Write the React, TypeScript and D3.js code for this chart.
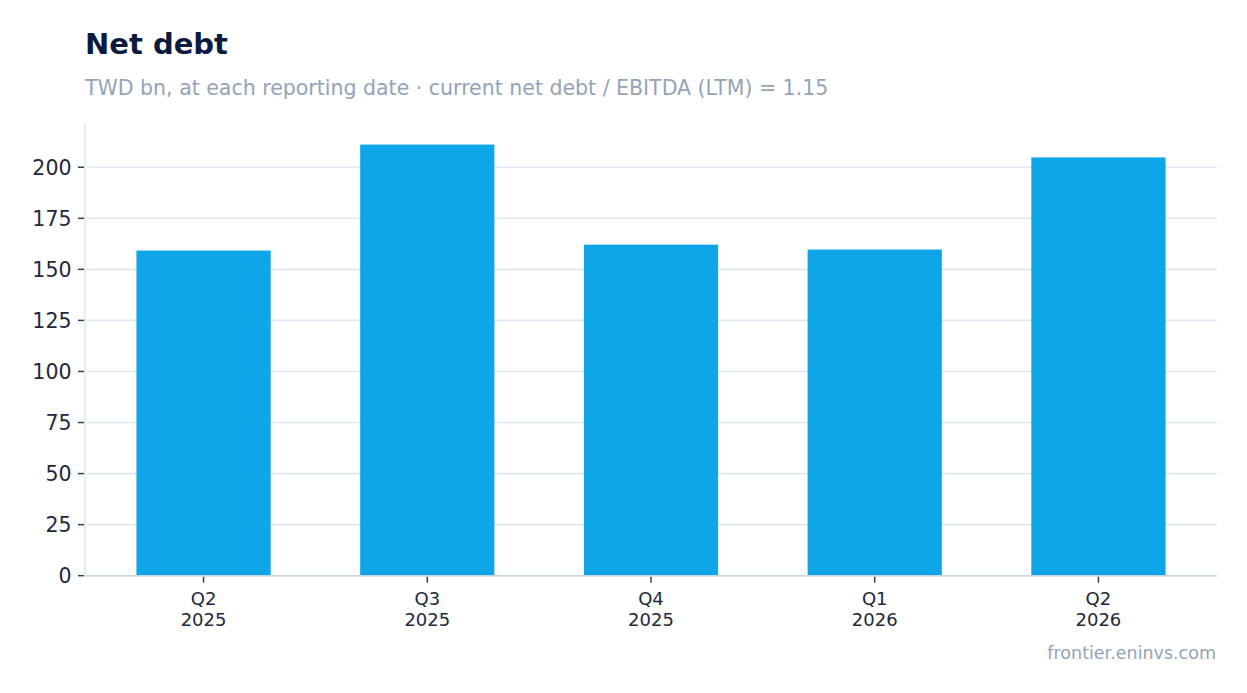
import React from "react";
import * as d3 from "d3";

const quarters = ["Q2", "Q3", "Q4", "Q1", "Q2"];
const years = ["2025", "2025", "2025", "2026", "2026"];
const netDebt = [159.2, 211.1, 162.1, 159.7, 204.8];
const yTicks = [0, 25, 50, 75, 100, 125, 150, 175, 200];

const W = 1247;
const H = 693;
const M = { left: 85, right: 1217, top: 123, bottom: 575.7 };

export default function App() {
  const keys = quarters.map((q, i) => `${q} ${years[i]}`);
  const x = d3
    .scaleBand<string>()
    .domain(keys)
    .range([M.left, M.right])
    .paddingInner(0.4)
    .paddingOuter(0.23);
  const maxV = d3.max(netDebt) as number;
  const y = d3.scaleLinear().domain([0, maxV * 1.05]).range([M.bottom, M.top]);
  const font = "'DejaVu Sans', sans-serif";

  return (
    <svg
      width={W}
      height={H}
      style={{ position: "absolute", left: 0, top: 0, display: "block", background: "#fff" }}
      fontFamily={font}
    >
      <text x={85} y={53.5} fontSize={29} fontWeight="bold" fill="#0b1b40">
        Net debt
      </text>
      <text x={85} y={94.5} fontSize={20.5} fill="#94a3b8">
        TWD bn, at each reporting date · current net debt / EBITDA (LTM) = 1.15
      </text>

      {/* gridlines */}
      {yTicks.map((t) => (
        <line
          key={"g" + t}
          x1={M.left}
          x2={M.right}
          y1={y(t)}
          y2={y(t)}
          stroke="#e2e8f0"
          strokeWidth={1.6}
        />
      ))}

      {/* left axis line */}
      <line x1={M.left} x2={M.left} y1={M.top} y2={M.bottom} stroke="#e2e8f0" strokeWidth={1.6} />

      {/* bars */}
      {netDebt.map((v, i) => (
        <rect
          key={"b" + i}
          x={x(keys[i])}
          y={y(v)}
          width={x.bandwidth()}
          height={y(0) - y(v)}
          fill="#0ea5e9"
        />
      ))}

      {/* bottom axis line */}
      <line x1={M.left} x2={M.right} y1={M.bottom} y2={M.bottom} stroke="#cbd5e1" strokeWidth={1.6} />

      {/* y ticks */}
      {yTicks.map((t) => (
        <g key={"yt" + t}>
          <line x1={78} x2={84} y1={y(t)} y2={y(t)} stroke="#334155" strokeWidth={1.5} />
          <text
            x={71.5}
            y={y(t)}
            dy="0.36em"
            textAnchor="end"
            fontSize={20.5}
            fill="#1e293b"
          >
            {t}
          </text>
        </g>
      ))}

      {/* x ticks */}
      {keys.map((k, i) => {
        const cx = (x(k) as number) + x.bandwidth() / 2;
        return (
          <g key={"xt" + i}>
            <line x1={cx} x2={cx} y1={M.bottom + 1} y2={M.bottom + 7} stroke="#334155" strokeWidth={1.5} />
            <text x={cx} y={604.5} textAnchor="middle" fontSize={18} fill="#1e293b">
              {quarters[i]}
            </text>
            <text x={cx} y={625.5} textAnchor="middle" fontSize={18} fill="#1e293b">
              {years[i]}
            </text>
          </g>
        );
      })}

      <text x={1216} y={658.5} textAnchor="end" fontSize={17.5} fill="#94a3b8">
        frontier.eninvs.com
      </text>
    </svg>
  );
}
